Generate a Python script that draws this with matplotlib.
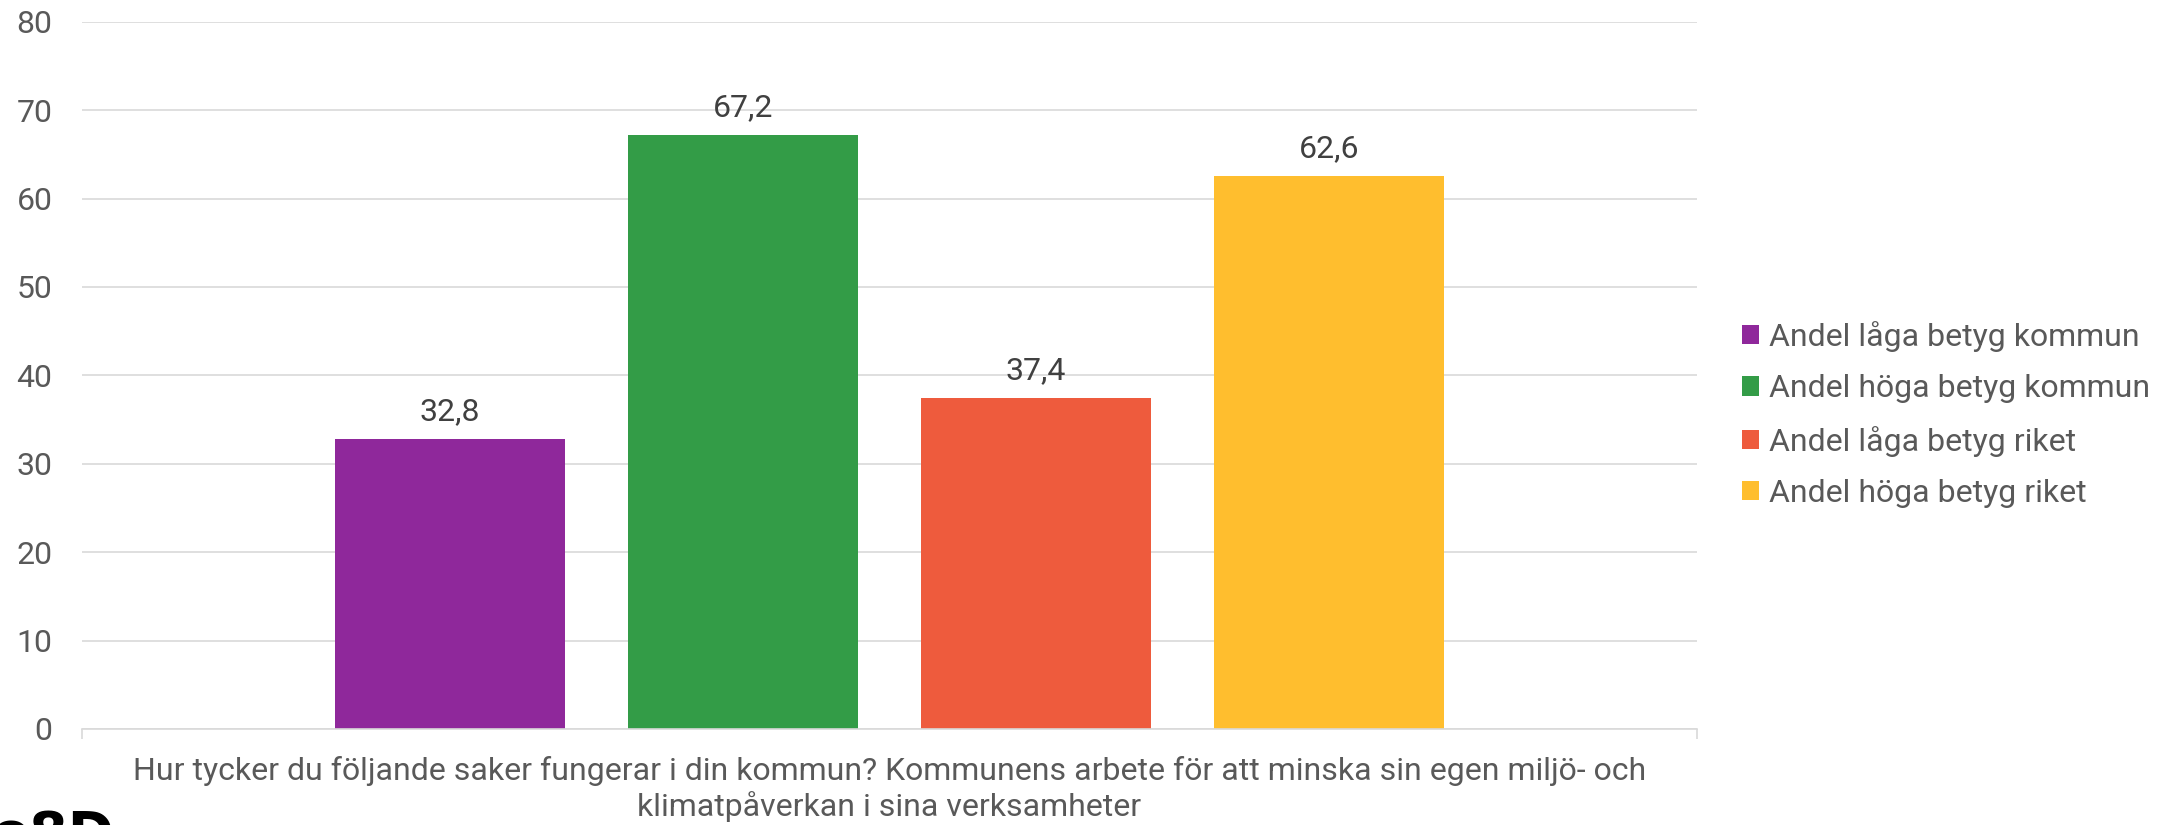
import matplotlib
matplotlib.use("Agg")
import matplotlib.pyplot as plt
from matplotlib.patches import Patch

# Data
category_label = ("Hur tycker du följande saker fungerar i din kommun? Kommunens arbete för att minska sin egen miljö- och\n"
                  "klimatpåverkan i sina verksamheter")
series_names = ["Andel låga betyg kommun", "Andel höga betyg kommun",
                "Andel låga betyg riket", "Andel höga betyg riket"]
series_values = [32.8, 67.2, 37.4, 62.6]
series_colors = ["#8f289b", "#339c47", "#ee5b3d", "#ffbe2e"]
y_ticks = [0, 10, 20, 30, 40, 50, 60, 70, 80]

FONT = "Roboto"
FS = 23
TICK_COLOR = "#595959"
LABEL_COLOR = "#404040"
GRID_COLOR = "#d9d9d9"

plt.rcParams["font.family"] = [FONT, "DejaVu Sans"]

fig = plt.figure(figsize=(21.69, 8.25), dpi=100)
ax = fig.add_axes([81.6 / 2169, 96 / 825, (1697 - 81.6) / 2169, (729 - 21.7) / 825])

n = len(series_values)
bar_width = 0.785
offsets = [i - (n - 1) / 2 for i in range(n)]
half_span = 2.757

for off, val, col, name in zip(offsets, series_values, series_colors, series_names):
    ax.bar(off, val, width=bar_width, color=col, label=name, zorder=3)
    ax.annotate(f"{val:.1f}".replace(".", ","), xy=(off, val), xytext=(0, 13.5),
                textcoords="offset points", ha="center", va="baseline",
                fontsize=FS, color=LABEL_COLOR)

ax.set_xlim(-half_span, half_span)
ax.set_ylim(0, 80)
ax.set_yticks(y_ticks)
ax.set_yticklabels([str(t) for t in y_ticks])
ax.tick_params(axis="y", length=0, pad=21, labelsize=FS, labelcolor=TICK_COLOR)
ax.set_xticks([-half_span, half_span])
ax.set_xticklabels(["", ""])
ax.tick_params(axis="x", length=7, width=1.2, color=GRID_COLOR, direction="out")

ax.yaxis.grid(True, color=GRID_COLOR, linewidth=1.2, zorder=0)
ax.set_axisbelow(True)
for side in ["top", "right", "left"]:
    ax.spines[side].set_visible(False)
ax.spines["bottom"].set_color(GRID_COLOR)
ax.spines["bottom"].set_linewidth(1.2)
ax.spines["bottom"].set_zorder(4)

fig.text(889.5 / 2169, 1 - 756 / 825, category_label, ha="center", va="top",
         fontsize=FS, color=TICK_COLOR, linespacing=1.22)

handles = [Patch(facecolor=c, edgecolor="none") for c in series_colors]
fig.legend(handles, series_names, loc="center left",
           bbox_to_anchor=(1741.7 / 2169, 1 - 414.5 / 825),
           frameon=False, fontsize=FS, labelcolor=TICK_COLOR,
           handlelength=0.54, handleheight=0.54, handletextpad=0.3,
           labelspacing=0.7, borderpad=0, borderaxespad=0)

# Partial logo at the lower left edge
fig.text(-0.004, -0.032, "o8D", fontsize=40, fontweight="bold", color="black",
         family="DejaVu Sans", ha="left", va="baseline")

fig.savefig("out.png", dpi=100)
